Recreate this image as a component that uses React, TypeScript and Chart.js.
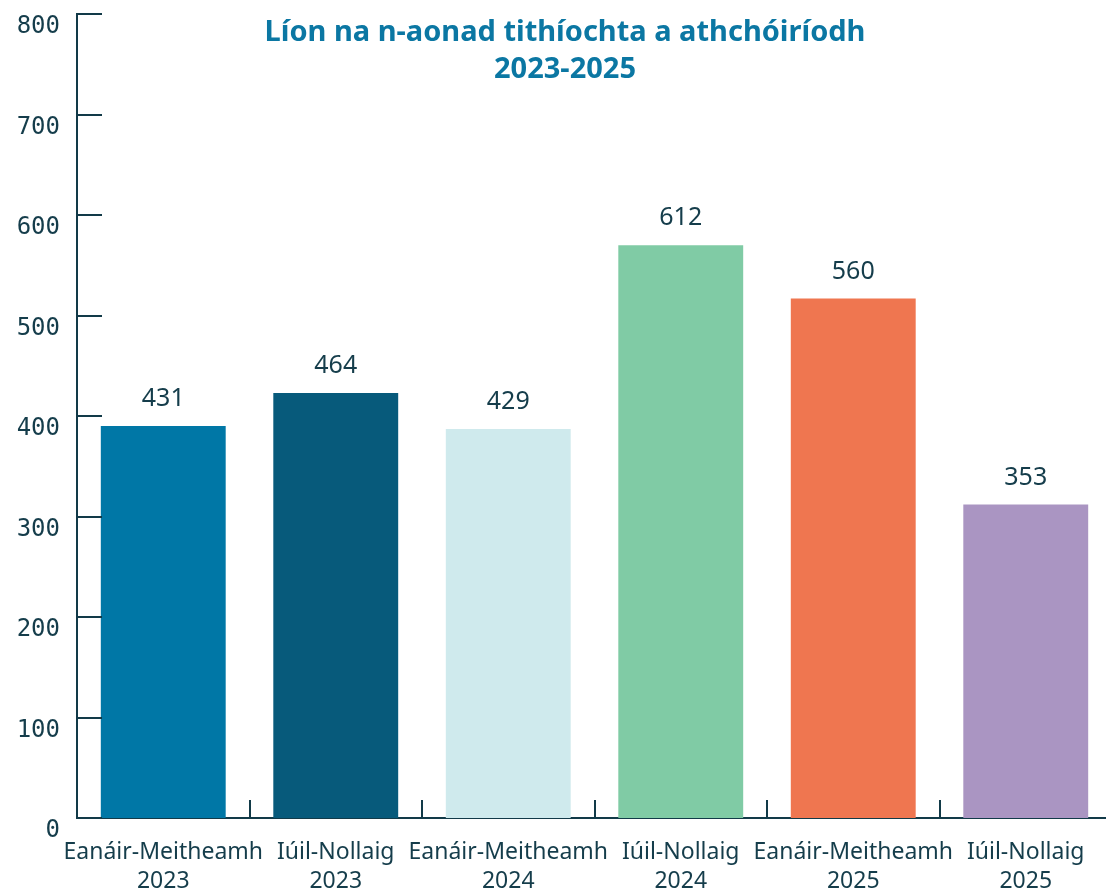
import React, { useEffect, useRef } from "react";
import { Chart, registerables } from "chart.js";

Chart.register(...registerables);

const titleLines = ["Líon na n-aonad tithíochta a athchóiríodh", "2023-2025"];
const periods = ["Eanáir-Meitheamh", "Iúil-Nollaig", "Eanáir-Meitheamh", "Iúil-Nollaig", "Eanáir-Meitheamh", "Iúil-Nollaig"];
const years = ["2023", "2023", "2024", "2024", "2025", "2025"];
// bar heights as drawn in the picture (against the y axis)
const barHeights = [390, 423, 387, 570, 517, 312];
// values printed above the bars
const printedValues = [431, 464, 429, 612, 560, 353];
const barColors = ["#0077a6", "#075a7b", "#cfeaed", "#80cba5", "#ef7650", "#aa95c2"];
const yMin = 0;
const yMax = 800;
const yStep = 100;

const TEXT = "#153d4b";
const AXIS = "#123a48";

export default function App() {
  const ref = useRef<HTMLCanvasElement | null>(null);

  useEffect(() => {
    const canvas = ref.current;
    if (!canvas) return;

    const overlay = {
      id: "overlay",
      afterDatasetsDraw(chart: any) {
        const ctx = chart.ctx;
        const area = chart.chartArea;
        const ys = chart.scales.y;
        const xs = chart.scales.x;
        ctx.save();
        ctx.strokeStyle = AXIS;
        ctx.lineWidth = 2;
        for (let v = yMin; v <= yMax; v += yStep) {
          const py = Math.round(ys.getPixelForValue(v));
          ctx.beginPath();
          ctx.moveTo(area.left, py);
          ctx.lineTo(area.left + 25, py);
          ctx.stroke();
        }
        for (let i = 1; i < periods.length; i++) {
          const px = Math.round((xs.getPixelForValue(i - 1) + xs.getPixelForValue(i)) / 2);
          ctx.beginPath();
          ctx.moveTo(px, area.bottom);
          ctx.lineTo(px, area.bottom - 18);
          ctx.stroke();
        }
        const meta = chart.getDatasetMeta(0);
        ctx.fillStyle = TEXT;
        ctx.font = "25px 'Noto Sans'";
        ctx.textAlign = "center";
        ctx.textBaseline = "middle";
        meta.data.forEach((bar: any, i: number) => {
          ctx.fillText(String(printedValues[i]), bar.x, bar.y - 27);
        });
        ctx.fillStyle = "#0b77a3";
        ctx.font = "bold 29px 'Noto Sans'";
        titleLines.forEach((t, i) => {
          ctx.fillText(t, 565, 33 + i * 37);
        });
        ctx.restore();
      },
    };

    const chart = new Chart(canvas, {
      type: "bar",
      data: {
        labels: periods.map((p, i) => [p, years[i]]),
        datasets: [
          {
            data: barHeights,
            backgroundColor: barColors,
            borderWidth: 0,
            categoryPercentage: 1,
            barPercentage: 0.724,
          },
        ],
      },
      options: {
        responsive: false,
        animation: false,
        devicePixelRatio: 1,
        layout: { padding: { top: 14, left: 0, right: 0, bottom: 0 } },
        plugins: {
          legend: { display: false },
          title: { display: false },
          tooltip: { enabled: false },
        },
        scales: {
          x: {
            grid: { display: false, drawTicks: false },
            border: { display: true, color: AXIS, width: 2 },
            ticks: {
              color: TEXT,
              font: { family: "'Noto Sans'", size: 23, lineHeight: 1.26 },
              padding: 20,
              maxRotation: 0,
              autoSkip: false,
            },
            afterFit(scale: any) {
              scale.height = 73;
              scale.paddingLeft = 0;
              scale.paddingRight = 0;
            },
          },
          y: {
            min: yMin,
            max: yMax,
            grid: { display: false, drawTicks: false },
            border: { display: true, color: AXIS, width: 2 },
            ticks: {
              stepSize: yStep,
              color: TEXT,
              font: { family: "'DejaVu Sans Mono'", size: 24, lineHeight: 1 },
              padding: 17,
              labelOffset: 13,
            },
            afterFit(scale: any) {
              scale.width = 77;
              scale.paddingTop = 0;
              scale.paddingBottom = 0;
            },
          },
        },
      },
      plugins: [overlay],
    });

    return () => chart.destroy();
  }, []);

  return (
    <div style={{ position: "fixed", left: 0, top: 0, width: 1112, height: 891, background: "#ffffff" }}>
      <canvas ref={ref} width={1112} height={891} style={{ display: "block" }} />
    </div>
  );
}
